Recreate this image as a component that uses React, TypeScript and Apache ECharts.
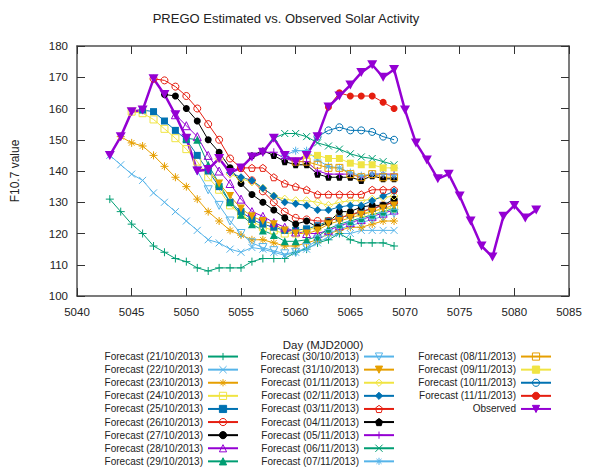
import React, { useEffect, useRef } from "react";
import * as echarts from "echarts";

const FONT = '"Liberation Sans", Arial, sans-serif';

// Axis ranges: [min, max, step]
const dayAxis = [5040, 5085, 5];
const fluxAxis = [100, 180, 10];

// Observed F10.7, one value per day from observedStart
const observedStart = 5043;
const observedValues = [
  145, 151, 159, 159.5, 169.5, 164.5, 158, 150.5, 140, 140.5, 144, 139.5, 141,
  144.5, 146, 150.5, 145, 143, 145, 151, 160.5, 164, 167.5, 171.5, 174, 170,
  172.5, 159.5, 149, 143.5, 137.5, 139, 132, 124, 116, 112.5, 125.5, 129, 125,
  127.5,
];

// Forecast runs: first day of each run, then its daily values up to day 5069
const forecastNames = [
  "Forecast (21/10/2013)", "Forecast (22/10/2013)", "Forecast (23/10/2013)",
  "Forecast (24/10/2013)", "Forecast (25/10/2013)", "Forecast (26/10/2013)",
  "Forecast (27/10/2013)", "Forecast (28/10/2013)", "Forecast (29/10/2013)",
  "Forecast (30/10/2013)", "Forecast (31/10/2013)", "Forecast (01/11/2013)",
  "Forecast (02/11/2013)", "Forecast (03/11/2013)", "Forecast (04/11/2013)",
  "Forecast (05/11/2013)", "Forecast (06/11/2013)", "Forecast (07/11/2013)",
  "Forecast (08/11/2013)", "Forecast (09/11/2013)", "Forecast (10/11/2013)",
  "Forecast (11/11/2013)",
];
const forecastStarts = [
  5043, 5043, 5044, 5045, 5046, 5047, 5048, 5049, 5050, 5051, 5052, 5053, 5054,
  5055, 5056, 5057, 5058, 5059, 5060, 5061, 5062, 5063,
];

const fc2110 = [131, 127, 123, 120, 116, 114, 112, 111, 109, 108, 109, 109, 109, 111, 112, 112, 112, 114, 115, 117, 118, 120, 118, 117, 117, 117, 116];
const fc2210 = [145, 142, 139, 137, 133, 130, 127, 124, 121, 118, 117, 115, 114, 115.5, 115, 114, 113, 114, 115, 117, 119, 120, 120, 121, 121, 121, 121];
const fc2310 = [151, 149, 148, 145, 141.5, 138, 135, 131, 127, 124, 121, 119.5, 118, 118, 117, 116, 116, 117, 118, 120, 121, 122, 122, 123, 124, 124];
const fc2410 = [159, 158.5, 156.5, 153.5, 150.5, 147, 143, 138, 134, 129, 126, 124, 122, 121, 120, 120, 121, 122, 124, 125, 126, 126.5, 127, 128, 128];
const fc2510 = [159.5, 159, 156, 153, 150, 145, 140, 135, 130, 127, 124.5, 123, 122, 121, 121, 121.5, 122.5, 124, 125, 126, 127, 128, 129, 130];
const fc2610 = [169.5, 169, 167, 164, 160, 155, 150, 144, 141, 137, 133.5, 130, 127, 125, 124.5, 124, 124, 125, 126, 127, 128, 129, 130];
const fc2710 = [164.5, 164, 160, 156, 150, 146, 141, 136, 132.5, 130, 127.5, 125, 123, 124, 122, 123.5, 127, 127, 128.5, 129, 129, 131];
const fc2810 = [158, 154.5, 151, 145, 140, 136, 131, 127, 125.5, 123.5, 122, 120.5, 120, 120, 121, 122.5, 123.5, 124.5, 125.5, 126.5, 127.5];
const fc2910 = [150.5, 150, 142, 136, 130, 126, 123, 121, 119.5, 117.5, 117.5, 118, 119, 121.5, 123, 124, 125, 126, 127, 128];
const fc3010 = [140, 134, 129, 124, 120, 117, 115.5, 114.5, 113.5, 114, 115.5, 118, 120, 121.5, 122.5, 123.5, 124.5, 125.5, 126.5];
const fc3110 = [140.5, 136, 132, 128, 125.5, 124, 123, 121, 120, 120, 121, 123, 124, 125, 126, 127, 128, 129];
const fc0111 = [144, 139, 137.5, 136.5, 134.5, 132, 131, 130.5, 130.5, 130, 129, 130, 130.5, 130.5, 131, 131.5, 132];
const fc0211 = [139.5, 138, 137, 134.5, 132, 130, 129.5, 129, 127.5, 127.5, 128.5, 129, 129, 130.5, 132, 133.5];
const fc0311 = [141, 141, 141, 138, 136, 135, 134, 132.5, 132.5, 132.5, 132.5, 132.5, 134, 134, 134];
const fc0411 = [145, 146.5, 145, 143, 142, 142, 139, 138, 138, 138, 137, 138.5, 137.5, 137.5];
const fc0511 = [146, 146, 144, 143, 143, 140, 139, 139, 139, 138, 139, 139, 139];
const fc0611 = [150.5, 152, 152, 151, 149, 148, 147, 145.5, 144.5, 144, 143, 142];
const fc0711 = [145, 146.5, 146.5, 143.5, 141.5, 141, 139.5, 138.5, 139, 139, 138.5];
const fc0811 = [143, 143, 142, 141, 141, 139, 138, 139, 138, 138];
const fc0911 = [145, 145, 144, 144, 142.5, 142, 142, 141, 141];
const fc1011 = [151, 153, 154, 153, 153, 152.5, 151, 150];
const fc1111 = [160.5, 165, 164, 164, 164, 162, 160];

const forecastValues = [
  fc2110, fc2210, fc2310, fc2410, fc2510, fc2610, fc2710, fc2810, fc2910,
  fc3010, fc3110, fc0111, fc0211, fc0311, fc0411, fc0511, fc0611, fc0711,
  fc0811, fc0911, fc1011, fc1111,
];

// Line colours cycle (starting at green), point types cycle over 15 kinds
const lineColors = ["#009e73", "#56b4e9", "#e69f00", "#f0e442", "#0072b2", "#e51e10", "#000000", "#9400d3"];
const markerKinds = [
  "plus", "cross", "star", "openSquare", "square", "openCircle", "circle",
  "openTriUp", "triUp", "openTriDown", "triDown", "openDiamond", "diamond",
  "openPentagon", "pentagon",
];

const PLUS = "path://M5,0L5,10M0,5L10,5";
const CROSS = "path://M0,0L10,10M0,10L10,0";
const STAR = "path://M5,0L5,10M0,5L10,5M1.5,1.5L8.5,8.5M1.5,8.5L8.5,1.5";
const PENTAGON = "path://M5,0L9.76,3.45L7.94,9.05L2.06,9.05L0.24,3.45Z";

function markerFor(kind: string, color: string) {
  const open = { color: "rgba(0,0,0,0)", borderColor: color, borderWidth: 1 };
  const solid = { color, borderColor: color, borderWidth: 0 };
  switch (kind) {
    case "plus": return { symbol: PLUS, symbolSize: 8, itemStyle: open };
    case "cross": return { symbol: CROSS, symbolSize: 7, itemStyle: open };
    case "star": return { symbol: STAR, symbolSize: 8, itemStyle: open };
    case "openSquare": return { symbol: "rect", symbolSize: 7, itemStyle: open };
    case "square": return { symbol: "rect", symbolSize: 7, itemStyle: solid };
    case "openCircle": return { symbol: "circle", symbolSize: 7, itemStyle: open };
    case "circle": return { symbol: "circle", symbolSize: 7, itemStyle: solid };
    case "openTriUp": return { symbol: "triangle", symbolSize: 8, itemStyle: open };
    case "triUp": return { symbol: "triangle", symbolSize: 8, itemStyle: solid };
    case "openTriDown": return { symbol: "triangle", symbolSize: 8, symbolRotate: 180, itemStyle: open };
    case "triDown": return { symbol: "triangle", symbolSize: 8, symbolRotate: 180, itemStyle: solid };
    case "openDiamond": return { symbol: "diamond", symbolSize: 8, itemStyle: open };
    case "diamond": return { symbol: "diamond", symbolSize: 8, itemStyle: solid };
    case "openPentagon": return { symbol: PENTAGON, symbolSize: 7, itemStyle: open };
    default: return { symbol: PENTAGON, symbolSize: 7, itemStyle: solid };
  }
}

const OBS_COLOR = "#9400d3";
const AXIS_COLOR = "#505050";
const TEXT_COLOR = "#222";

function buildOption() {
  const forecastSeries = forecastNames.map((name, i) => {
    const start = forecastStarts[i];
    const color = lineColors[i % lineColors.length];
    return {
      name,
      type: "line",
      data: forecastValues[i].map((v, k) => [start + k, v]),
      lineStyle: { color, width: 1 },
      ...markerFor(markerKinds[i % markerKinds.length], color),
      emphasis: { disabled: true },
    };
  });

  const observedSeries = {
    name: "Observed",
    type: "line",
    data: observedValues.map((v, k) => [observedStart + k, v]),
    lineStyle: { color: OBS_COLOR, width: 2.5 },
    symbol: "triangle",
    symbolRotate: 180,
    symbolSize: [10, 9],
    itemStyle: { color: OBS_COLOR, borderColor: OBS_COLOR, borderWidth: 0 },
    emphasis: { disabled: true },
  };

  const mirrorAxis = {
    axisLine: { show: true, lineStyle: { color: AXIS_COLOR, width: 1.5 } },
    axisTick: { show: true, inside: true, length: 8, lineStyle: { color: "#333", width: 1 } },
    splitLine: { show: false },
  };

  const legendBase = {
    orient: "vertical",
    align: "right",
    top: 350,
    padding: 0,
    itemGap: 0,
    itemWidth: 30,
    itemHeight: 9,
    selectedMode: false,
    itemStyle: { borderWidth: 1 },
    textStyle: { fontFamily: FONT, fontSize: 10, color: TEXT_COLOR, lineHeight: 13.1 },
  };

  const plain = (v: number) => String(v);

  return {
    animation: false,
    backgroundColor: "#ffffff",
    grid: { left: 77, right: 21, top: 46, bottom: 172 },
    xAxis: [
      {
        type: "value",
        min: dayAxis[0],
        max: dayAxis[1],
        interval: dayAxis[2],
        name: "Day (MJD2000)",
        nameLocation: "middle",
        nameGap: 43,
        nameTextStyle: { fontFamily: FONT, fontSize: 11.5, color: TEXT_COLOR },
        axisLabel: { fontFamily: FONT, fontSize: 11.5, color: TEXT_COLOR, margin: 10, formatter: plain },
        ...mirrorAxis,
      },
      {
        type: "value",
        position: "top",
        min: dayAxis[0],
        max: dayAxis[1],
        interval: dayAxis[2],
        axisLabel: { show: false },
        ...mirrorAxis,
      },
    ],
    yAxis: [
      {
        type: "value",
        min: fluxAxis[0],
        max: fluxAxis[1],
        interval: fluxAxis[2],
        name: "F10.7 value",
        nameLocation: "middle",
        nameRotate: 90,
        nameGap: 56,
        nameTextStyle: { fontFamily: FONT, fontSize: 12, color: TEXT_COLOR },
        axisLabel: { fontFamily: FONT, fontSize: 11.5, color: TEXT_COLOR, margin: 9, formatter: plain },
        ...mirrorAxis,
      },
      {
        type: "value",
        position: "right",
        min: fluxAxis[0],
        max: fluxAxis[1],
        interval: fluxAxis[2],
        axisLabel: { show: false },
        ...mirrorAxis,
      },
    ],
    legend: [
      { ...legendBase, right: 351, data: forecastNames.slice(0, 9) },
      { ...legendBase, right: 195, data: forecastNames.slice(9, 18) },
      { ...legendBase, right: 38, data: [...forecastNames.slice(18), "Observed"] },
    ],
    graphic: [
      {
        type: "text",
        x: 286,
        y: 18,
        style: {
          text: "PREGO Estimated vs. Observed Solar Activity",
          align: "center",
          verticalAlign: "middle",
          fontFamily: FONT,
          fontSize: 13,
          fill: TEXT_COLOR,
        },
      },
    ],
    series: [...forecastSeries, observedSeries],
  };
}

export default function App() {
  const ref = useRef<HTMLDivElement>(null);
  useEffect(() => {
    if (!ref.current) return;
    const chart = echarts.init(ref.current, null, { renderer: "svg" });
    chart.setOption(buildOption() as any);
    return () => chart.dispose();
  }, []);
  return (
    <div
      ref={ref}
      style={{ position: "fixed", left: 0, top: 0, width: 590, height: 468, background: "#fff" }}
    />
  );
}
